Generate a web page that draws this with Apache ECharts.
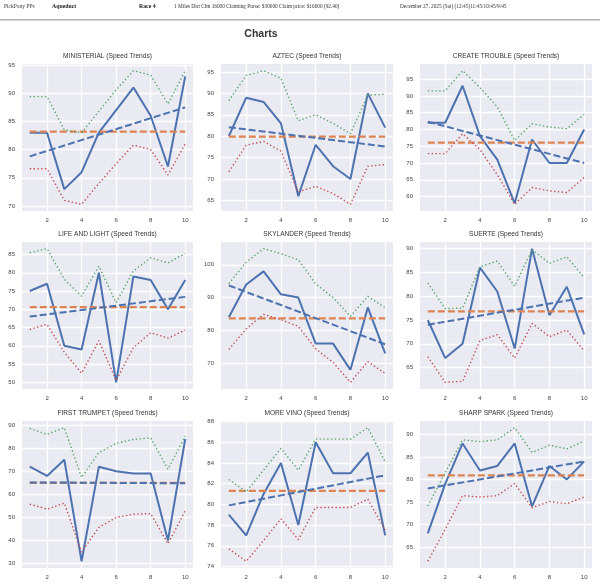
<!DOCTYPE html>
<html><head><meta charset="utf-8">
<script src="https://cdn.jsdelivr.net/npm/echarts@6/dist/echarts.min.js"></script>
<style>html,body{margin:0;padding:0;background:#fff}#c{width:600px;height:586px}</style>
</head><body><div id="c"></div>
<script>
const races = [1,2,3,4,5,6,7,8,9,10];
const horses = ['MINISTERIAL','AZTEC','CREATE TROUBLE','LIFE AND LIGHT','SKYLANDER','SUERTE','FIRST TRUMPET','MORE VINO','SHARP SPARK'];
const speed = [
  [83,83,73,76,83,87,91,86,77,93],
  [80,89,88,83,66,78,73,70,90,82],
  [82,82,93,78,71,58,77,70,70,80],
  [75,77,60,59,80,50,79,78,70,78],
  [84,94,98,91,90,76,76,68,87,73],
  [75,67,70,86,81,69,90,76,82,72],
  [72,68,75,31,72,70,69,69,40,84],
  [79,77,81,84,78,86,83,83,85,77],
  [68,79,88,82,83,88,74,83,80,84]
];
const upperBand = [
  [89.4,89.4,83.5,83,86.8,90.6,94,93.2,88.1,94],
  [88.3,94.2,95.3,93.5,83.6,85,83,80.6,89.6,89.8],
  [91.5,91.5,97.5,92.5,86.7,76.7,81.7,80.7,80.2,84.5],
  [85.5,86.6,78.2,73.6,81.8,71.8,80.5,84.1,82.7,85.3],
  [94.2,100.8,104.9,103.4,101.5,94.2,90,84.3,90.4,86.9],
  [82.8,77.4,77.5,86.2,87.4,82.1,89.8,86.9,88.3,83.9],
  [88.6,86,88.9,67.3,78.1,82.1,83.8,84.5,70.9,85.3],
  [82.4,81.2,83.3,85.4,83.3,86.3,86.3,86.3,87.4,84.1],
  [74.1,81.5,88.8,88.4,88.8,91.5,86,87.6,86.8,88.5]
];
const lowerBand = [
  [76.6,76.6,71.0,70.3,74,77.5,80.8,80,75.5,81],
  [71.7,77.9,78.8,76.5,67,68.3,66.6,64.1,73,73.4],
  [72.8,72.8,78.7,74,66.5,57.7,62.7,61.7,61.2,65.7],
  [64.5,65.9,58.2,52.5,61.4,50.5,59.5,63.6,62.1,64.3],
  [74.2,80.5,84.9,83.3,81.2,74.4,70.3,64.2,70.5,66.9],
  [67.3,61.9,62.1,70.7,71.9,67,74.3,71.5,72.9,68.5],
  [55.8,53.6,56.2,35,45.7,50,51.4,51.7,38.6,52.9],
  [75.7,74.5,76.5,78.6,76.6,79.7,79.7,79.7,80.5,77.5],
  [61.8,68.9,76.4,76.1,76.4,79.1,73.7,75.1,74.6,76.1]
];
const avgLine = [83.2,79.9,76.1,70.6,83.7,76.8,65,81.3,80.9];
const trendStart = [78.8,82.1,82.3,68,93.7,74,65.2,79.9,78];
const trendEnd = [87.5,77.6,70,73.4,75.8,79.7,64.8,82.8,84];
const yStep = [5,5,5,5,10,5,10,2,5];
const xStep = 2;

const colLeft = [22,221,420], colW = [171,172,172];
const rowTop = [64,242,421], rowH = 147;
const BLUE='#4C72B0', ORANGE='#DD8452', GREEN='#55A868', RED='#C44E52';
const SANS = 'Liberation Sans, Arial, sans-serif';
const SERIF = 'Liberation Serif, Times New Roman, serif';

const grids=[], xAxes=[], yAxes=[], series=[], graphics=[];
const fmt = step => v => (Math.abs(v/step - Math.round(v/step)) < 1e-6 ? String(Math.round(v)) : '');

horses.forEach((name,i)=>{
  const r = Math.floor(i/3), c = i%3;
  grids.push({left:colLeft[c], top:rowTop[r], width:colW[c], height:rowH, show:true, backgroundColor:'#EAEAF2', borderWidth:0, containLabel:false});
  const all = [].concat(speed[i], upperBand[i], lowerBand[i], [avgLine[i], trendStart[i], trendEnd[i]]);
  const lo = Math.min.apply(null, all), hi = Math.max.apply(null, all), span = hi-lo;
  xAxes.push({type:'value', gridIndex:i, min:0.55, max:10.45, minInterval:xStep, maxInterval:xStep,
    axisLine:{show:false}, axisTick:{show:false},
    axisLabel:{formatter:fmt(xStep), fontSize:6, color:'#444', margin:6, fontFamily:SANS},
    splitLine:{show:true, showMinLine:false, showMaxLine:false, lineStyle:{color:'#fff', width:1.3}}});
  yAxes.push({type:'value', gridIndex:i, min:lo-0.05*span, max:hi+0.05*span, minInterval:yStep[i], maxInterval:yStep[i],
    axisLine:{show:false}, axisTick:{show:false},
    axisLabel:{formatter:fmt(yStep[i]), fontSize:6, color:'#444', margin:7, fontFamily:SANS},
    splitLine:{show:true, showMinLine:false, showMaxLine:false, lineStyle:{color:'#fff', width:1.3}}});
  const pts = arr => races.map((x,k)=>[x, arr[k]]);
  const base = {type:'line', xAxisIndex:i, yAxisIndex:i, showSymbol:false, symbol:'none', silent:true, animation:false};
  series.push(Object.assign({}, base, {name:'Speed', data:pts(speed[i]), lineStyle:{color:BLUE, width:2}, z:2}));
  series.push(Object.assign({}, base, {name:'Avg', data:[[races[0],avgLine[i]],[races[races.length-1],avgLine[i]]], lineStyle:{color:ORANGE, width:2.2, type:[7,3]}, z:3}));
  series.push(Object.assign({}, base, {name:'Trend', data:[[races[0],trendStart[i]],[races[races.length-1],trendEnd[i]]], lineStyle:{color:BLUE, width:2, type:[7,3]}, z:4}));
  series.push(Object.assign({}, base, {name:'Upper', data:pts(upperBand[i]), lineStyle:{color:GREEN, width:1.4, type:[1.4,2.4]}, z:5}));
  series.push(Object.assign({}, base, {name:'Lower', data:pts(lowerBand[i]), lineStyle:{color:RED, width:1.4, type:[1.4,2.4]}, z:6}));
  graphics.push({type:'text', x:colLeft[c]+colW[c]/2, y:rowTop[r]-8, style:{text:name+' (Speed Trends)', textAlign:'center', textVerticalAlign:'middle', fontSize:6.6, fill:'#333', fontFamily:SANS}});
});

graphics.push(
  {type:'text', x:4, y:7, style:{text:'PickPony PPs', fontSize:5.5, fill:'#333', fontFamily:SERIF, textVerticalAlign:'middle'}},
  {type:'text', x:52, y:7, style:{text:'Aqueduct', fontSize:5.8, fontWeight:'bold', fill:'#222', fontFamily:SERIF, textVerticalAlign:'middle'}},
  {type:'text', x:139, y:7, style:{text:'Race 4', fontSize:5.8, fontWeight:'bold', fill:'#222', fontFamily:SERIF, textVerticalAlign:'middle'}},
  {type:'text', x:174, y:7, style:{text:'1 Miles Dirt Clm 16000 Claiming Purse: $30000 Claim price: $16000 (92.40)', fontSize:5.3, fill:'#333', fontFamily:SERIF, textVerticalAlign:'middle'}},
  {type:'text', x:400, y:7, style:{text:'December 27, 2025 (Sat) (12:45)11:45/10:45/9:45', fontSize:5.3, fill:'#333', fontFamily:SERIF, textVerticalAlign:'middle'}},
  {type:'rect', shape:{x:0, y:19, width:600, height:1.5}, style:{fill:'#b0b0b0'}},
  {type:'text', x:261, y:34, style:{text:'Charts', textAlign:'center', textVerticalAlign:'middle', fontSize:10.5, fontWeight:'bold', fill:'#333', fontFamily:SANS}}
);

const chart = echarts.init(document.getElementById('c'), null, {renderer:'canvas'});
chart.setOption({animation:false, grid:grids, xAxis:xAxes, yAxis:yAxes, series:series, graphic:graphics});
</script></body></html>
